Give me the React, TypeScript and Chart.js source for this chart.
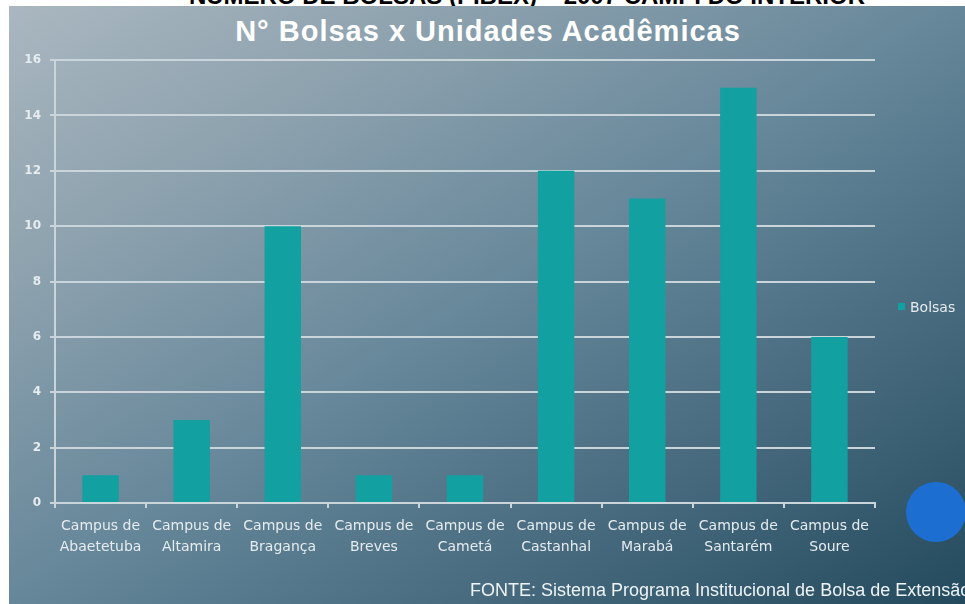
import React, { useEffect, useRef } from "react";
import { Chart, registerables } from "chart.js";

Chart.register(...registerables);

const categories: string[][] = [
  ["Campus de", "Abaetetuba"],
  ["Campus de", "Altamira"],
  ["Campus de", "Bragança"],
  ["Campus de", "Breves"],
  ["Campus de", "Cametá"],
  ["Campus de", "Castanhal"],
  ["Campus de", "Marabá"],
  ["Campus de", "Santarém"],
  ["Campus de", "Soure"],
];
const bolsas: number[] = [1, 3, 10, 1, 1, 12, 11, 15, 6];
const seriesName = "Bolsas";
const chartTitle = "N° Bolsas x Unidades Acadêmicas";
const pageTitle = "NÚMERO DE BOLSAS (PIBEX) – 2007 CAMPI DO INTERIOR";
const sourceText = "FONTE: Sistema Programa Institucional de Bolsa de Extensão";

const BAR = "#12a0a1";
const GRID = "#c9d4db";
const TEXT = "#e6ecef";

export default function App() {
  const ref = useRef<HTMLCanvasElement | null>(null);

  useEffect(() => {
    if (!ref.current) return;
    const chart = new Chart(ref.current, {
      type: "bar",
      data: {
        labels: categories,
        datasets: [
          {
            label: seriesName,
            data: bolsas,
            backgroundColor: BAR,
            barPercentage: 0.8,
            categoryPercentage: 0.5,
          },
        ],
      },
      options: {
        responsive: false,
        animation: false,
        layout: { padding: { top: 54, right: 90, left: 0, bottom: 0 } },
        plugins: {
          legend: { display: false },
          title: { display: false },
          tooltip: { enabled: false },
        },
        scales: {
          y: {
            min: 0,
            max: 16,
            ticks: {
              stepSize: 2,
              color: TEXT,
              font: { family: "DejaVu Sans", size: 12, weight: "bold" },
              padding: 9,
            },
            grid: { color: GRID, lineWidth: 2, tickLength: 5, drawTicks: true },
            border: { color: GRID, width: 2 },
            afterFit: (s: any) => {
              s.width = 46;
            },
          },
          x: {
            ticks: {
              color: TEXT,
              font: { family: "DejaVu Sans", size: 14, lineHeight: 1.5 },
              maxRotation: 0,
              minRotation: 0,
              autoSkip: false,
              padding: 8,
            },
            grid: {
              drawOnChartArea: false,
              drawTicks: true,
              tickLength: 5,
              color: GRID,
              lineWidth: 2,
            },
            border: { color: GRID, width: 2 },
            afterFit: (s: any) => {
              s.height = 101;
            },
          },
        },
      },
    });
    return () => chart.destroy();
  }, []);

  return (
    <div
      style={{
        position: "absolute",
        left: 0,
        top: 0,
        width: 965,
        height: 604,
        overflow: "hidden",
        background: "#ffffff",
      }}
    >
      <div
        style={{
          position: "absolute",
          left: 0,
          width: 1054,
          top: -16,
          lineHeight: "24px",
          textAlign: "center",
          fontFamily: "'Liberation Sans', Arial, sans-serif",
          fontWeight: "bold",
          fontSize: 24,
          color: "#000",
          whiteSpace: "nowrap",
        }}
      >
        {pageTitle}
      </div>
      <div
        style={{
          position: "absolute",
          left: 9,
          top: 6,
          width: 956,
          height: 598,
          background:
            "linear-gradient(to bottom right, #aab7c0 0%, #8ba0ad 25%, #66879a 50%, #46697d 75%, #244a5e 100%)",
        }}
      >
        <div
          style={{
            position: "absolute",
            left: 0,
            width: 958,
            top: 8,
            lineHeight: "34px",
            textAlign: "center",
            fontFamily: "'Liberation Sans', Arial, sans-serif",
            fontWeight: "bold",
            fontSize: 29,
            letterSpacing: 1,
            color: "#ffffff",
            whiteSpace: "nowrap",
          }}
        >
          {chartTitle}
        </div>
        <canvas
          ref={ref}
          width={956}
          height={598}
          style={{ position: "absolute", left: 0, top: 0, width: 956, height: 598 }}
        />
        <div
          style={{
            position: "absolute",
            left: 889,
            top: 297,
            width: 7,
            height: 7,
            background: BAR,
          }}
        />
        <div
          style={{
            position: "absolute",
            left: 901,
            top: 291,
            lineHeight: "20px",
            fontFamily: "'DejaVu Sans', sans-serif",
            fontSize: 14,
            color: TEXT,
            whiteSpace: "nowrap",
          }}
        >
          {seriesName}
        </div>
        <div
          style={{
            position: "absolute",
            left: 897,
            top: 476,
            width: 60,
            height: 60,
            borderRadius: "50%",
            background: "#1c6fd0",
          }}
        />
        <div
          style={{
            position: "absolute",
            left: 461,
            top: 573,
            lineHeight: "22px",
            fontFamily: "'Liberation Sans', Arial, sans-serif",
            fontSize: 18,
            color: "#eef3f6",
            whiteSpace: "nowrap",
          }}
        >
          {sourceText}
        </div>
      </div>
    </div>
  );
}
